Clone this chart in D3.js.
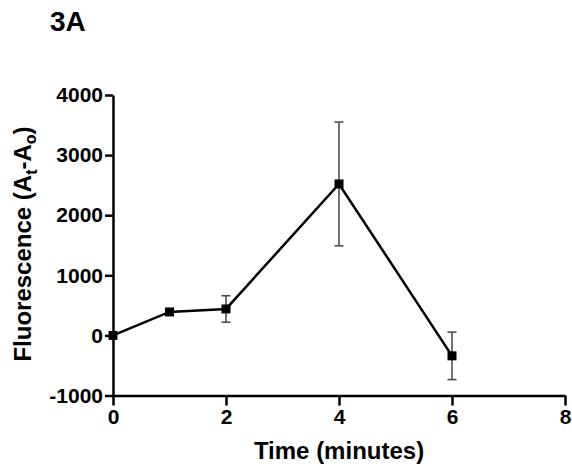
<!DOCTYPE html>
<html>
<head>
<meta charset="utf-8">
<script src="https://cdn.jsdelivr.net/npm/d3@7"></script>
<style>
  html, body { margin: 0; padding: 0; background: #fff; }
  svg text { font-family: Arial, "Liberation Sans", sans-serif; font-weight: bold; fill: #000; }
</style>
</head>
<body>
<svg id="chart" width="572" height="473"></svg>
<script>
// Data
const times = [0, 1, 2, 4, 6];
const means = [0, 390, 440, 2520, -340];
const errors = [0, 0, 220, 1030, 395];
const xTicks = [0, 2, 4, 6, 8];
const yTicks = [-1000, 0, 1000, 2000, 3000, 4000];
const panelLabel = "3A";
const xTitle = "Time (minutes)";

(function () {
const svg = d3.select("#chart");
const pLeft = 113, pRight = 565, pTop = 95, pBottom = 395.5;

const x = d3.scaleLinear().domain([0, 8]).range([pLeft, pRight]);
const y = d3.scaleLinear().domain([-1000, 4000]).range([pBottom, pTop]);

// Axes
const fmt = d => String(d);
const xAxis = d3.axisBottom(x).tickValues(xTicks).tickFormat(fmt).tickSize(10).tickPadding(4).tickSizeOuter(0);
const yAxis = d3.axisLeft(y).tickValues(yTicks).tickFormat(fmt).tickSize(8).tickPadding(2).tickSizeOuter(0);

const gx = svg.append("g").attr("transform", `translate(0,${pBottom})`).call(xAxis);
const gy = svg.append("g").attr("transform", `translate(${pLeft},0)`).call(yAxis);

[gx, gy].forEach(g => {
  g.select(".domain").attr("stroke", "#000").attr("stroke-width", 2.5);
  g.selectAll(".tick line").attr("stroke", "#000").attr("stroke-width", 2.5);
  g.selectAll(".tick text").style("font-size", "21px").style("font-weight", "bold")
    .style("font-family", 'Arial, "Liberation Sans", sans-serif').attr("fill", "#000");
});

// Error bars
const pts = times.map((t, i) => ({ t, m: means[i], e: errors[i] }));
const eb = svg.append("g").attr("stroke", "#444").attr("stroke-width", 1.5);
pts.filter(d => d.e > 0).forEach(d => {
  eb.append("line").attr("x1", x(d.t)).attr("x2", x(d.t)).attr("y1", y(d.m + d.e)).attr("y2", y(d.m - d.e));
  eb.append("line").attr("x1", x(d.t) - 4.5).attr("x2", x(d.t) + 4.5).attr("y1", y(d.m + d.e)).attr("y2", y(d.m + d.e));
  eb.append("line").attr("x1", x(d.t) - 4.5).attr("x2", x(d.t) + 4.5).attr("y1", y(d.m - d.e)).attr("y2", y(d.m - d.e));
});

// Line
const line = d3.line().x(d => x(d.t)).y(d => y(d.m));
svg.append("path").datum(pts).attr("d", line)
  .attr("fill", "none").attr("stroke", "#000").attr("stroke-width", 2.5);

// Markers
const ms = 9;
svg.append("g").selectAll("rect").data(pts).join("rect")
  .attr("x", d => x(d.t) - ms / 2).attr("y", d => y(d.m) - ms / 2)
  .attr("width", ms).attr("height", ms).attr("fill", "#000");

// Panel label
svg.append("text").attr("x", 50).attr("y", 31).style("font-size", "28px").text(panelLabel);

// X title
svg.append("text").attr("x", (pLeft + pRight) / 2).attr("y", 459).attr("text-anchor", "middle")
  .style("font-size", "24px").text(xTitle);

// Y title with subscripts
const yt = svg.append("text").attr("transform", "translate(31,244) rotate(-90)")
  .attr("text-anchor", "middle").style("font-size", "24px");
yt.append("tspan").text("Fluorescence (A");
yt.append("tspan").attr("dy", 6).style("font-size", "16px").text("t");
yt.append("tspan").attr("dy", -6).text("-A");
yt.append("tspan").attr("dy", 5).style("font-size", "16px").text("o");
yt.append("tspan").attr("dy", -5).text(")");
})();
</script>
</body>
</html>
